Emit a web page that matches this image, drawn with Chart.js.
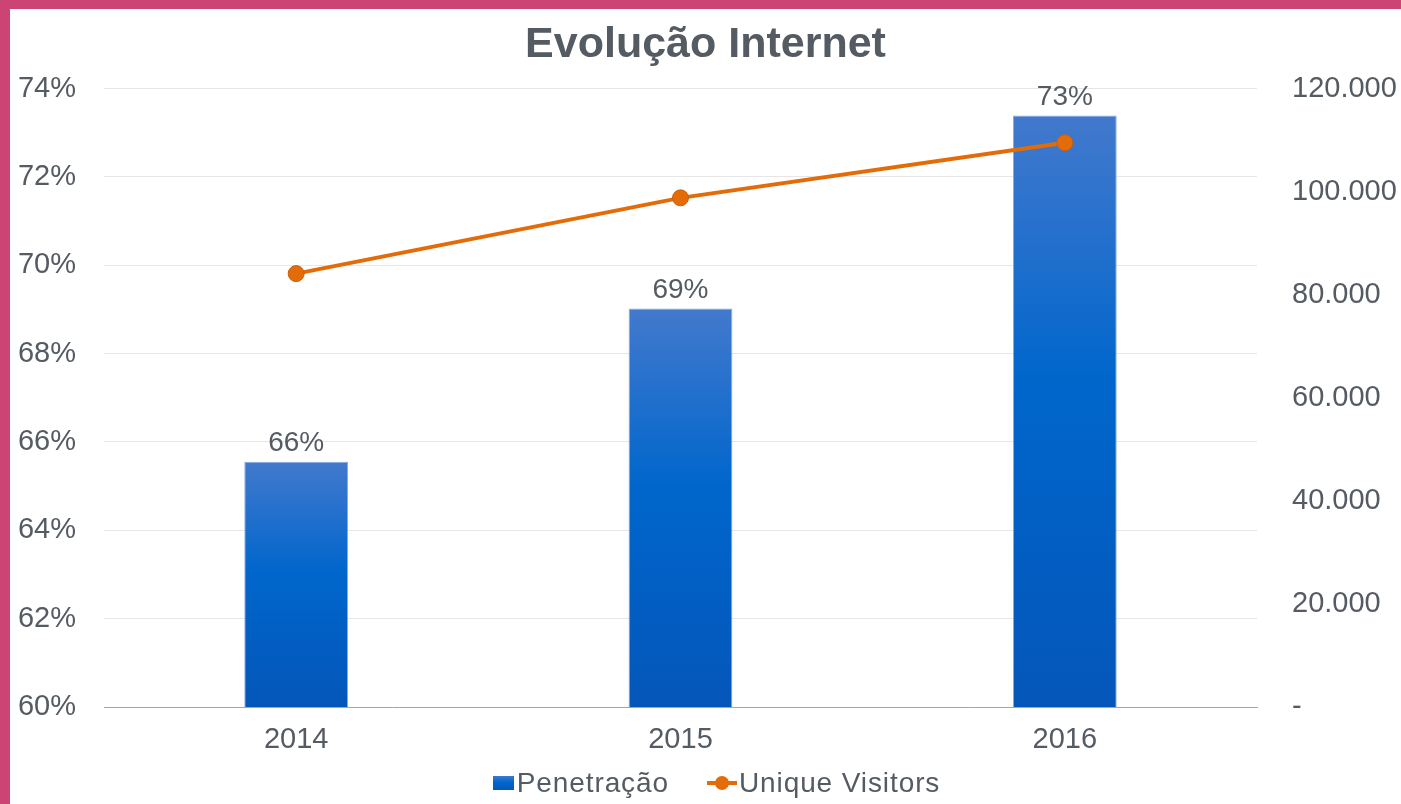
<!DOCTYPE html>
<html lang="pt">
<head>
  <meta charset="UTF-8">
  <title>Evolução Internet</title>
  <script src="https://cdn.jsdelivr.net/npm/chart.js"></script>
  <style>
    * {
      margin: 0;
      padding: 0;
    }

    body {
      background: #fff;
      font-family: "Liberation Sans", Arial, sans-serif;
    }

    .frame {
      position: relative;
      width: 1401px;
      height: 804px;
      box-sizing: border-box;
      border-top: 9px solid #cc4474;
      border-left: 10px solid #cc4474;
      overflow: hidden;
    }

    .chart-legend {
      position: absolute;
      left: 0;
      top: 758px;
      width: 1391px;
      display: flex;
      justify-content: center;
      align-items: center;
      padding-left: 22px;
      box-sizing: border-box;
      color: #555b62;
      font-size: 28px;
      letter-spacing: 0.9px;
    }

    .chart-legend-item {
      display: flex;
      align-items: center;
      margin: 0 19px;
    }

    .legend-box {
      width: 21px;
      height: 14px;
      margin-right: 3px;
      background: linear-gradient(#3f78cc, #0066cc 45%, #0558bb);
    }

    .legend-line {
      position: relative;
      width: 30px;
      height: 4px;
      margin-right: 2px;
      background: #e36c09;
    }

    .legend-line::after {
      content: '';
      position: absolute;
      left: 8px;
      top: -5px;
      width: 14px;
      height: 14px;
      border-radius: 50%;
      background: #e36c09;
    }
  </style>
</head>
<body>
<div class="frame">
  <canvas id="chart" width="1391" height="795"></canvas>
  <div class="chart-legend">
    <div class="chart-legend-item"><div class="legend-box"></div><span>Penetração</span></div>
    <div class="chart-legend-item"><div class="legend-line"></div><span>Unique Visitors</span></div>
  </div>
</div>

<script>
  const years = ['2014', '2015', '2016'];
  const penetration = [65.55, 69.02, 73.39];
  const visitors = [84100, 98800, 109500];

  const textColor = '#555b62';
  const fontFamily = '"Liberation Sans", Arial, sans-serif';

  // dot thousands separator, dash for zero (like the original sheet)
  function formatThousands(v) {
    if (v === 0) return '-';
    return String(Math.round(v)).replace(/\B(?=(\d{3})+(?!\d))/g, '.');
  }

  function barGradient(context) {
    const chart = context.chart;
    const area = chart.chartArea;
    if (!area || context.parsed === undefined) return '#0066cc';
    const top = chart.scales.y.getPixelForValue(context.parsed.y);
    const g = chart.ctx.createLinearGradient(0, top, 0, area.bottom);
    g.addColorStop(0, '#4279cd');
    g.addColorStop(0.45, '#0066cc');
    g.addColorStop(1, '#0556b9');
    return g;
  }

  const barLabels = {
    id: 'barLabels',
    afterDatasetsDraw(chart) {
      const ctx = chart.ctx;
      const meta = chart.getDatasetMeta(1);
      ctx.save();
      ctx.font = '28px ' + fontFamily;
      ctx.fillStyle = textColor;
      ctx.textAlign = 'center';
      ctx.textBaseline = 'alphabetic';
      meta.data.forEach((bar, i) => {
        ctx.fillText(Math.round(penetration[i]) + '%', bar.x, bar.y - 11);
      });
      ctx.restore();
    }
  };

  new Chart(document.getElementById('chart'), {
    data: {
      labels: years,
      datasets: [
        {
          type: 'line',
          label: 'Unique Visitors',
          data: visitors,
          yAxisID: 'y1',
          order: 0,
          borderColor: '#e36c09',
          borderWidth: 4,
          pointRadius: 8,
          pointBackgroundColor: '#e36c09',
          pointBorderColor: '#c95f0a',
          pointBorderWidth: 1,
          tension: 0
        },
        {
          type: 'bar',
          label: 'Penetração',
          data: penetration,
          yAxisID: 'y',
          order: 1,
          backgroundColor: barGradient,
          borderColor: '#86aae0',
          borderWidth: 1,
          borderSkipped: 'bottom',
          barPercentage: 0.27,
          categoryPercentage: 1
        }
      ]
    },
    options: {
      responsive: false,
      animation: false,
      layout: {
        padding: { left: 0, right: 0, top: 0, bottom: 37 }
      },
      plugins: {
        legend: { display: false },
        tooltip: { enabled: false },
        title: {
          display: true,
          text: 'Evolução Internet',
          color: textColor,
          font: { family: fontFamily, size: 43, weight: 'bold' },
          padding: { top: 10, bottom: 18 }
        }
      },
      scales: {
        x: {
          grid: { display: false, drawTicks: false },
          border: { display: true, color: '#8aa9d6', width: 1 },
          ticks: {
            color: textColor,
            font: { family: fontFamily, size: 29 },
            padding: 16
          },
          afterFit(scale) { scale.height = 60; }
        },
        y: {
          position: 'left',
          min: 60,
          max: 74,
          grid: { color: '#e6e6e6', drawTicks: false },
          border: { display: false },
          ticks: {
            stepSize: 2,
            color: textColor,
            font: { family: fontFamily, size: 29 },
            padding: 28,
            callback: v => v + '%'
          },
          afterFit(scale) { scale.width = 94; }
        },
        y1: {
          position: 'right',
          min: 0,
          max: 120000,
          grid: { display: false, drawTicks: false },
          border: { display: false },
          ticks: {
            stepSize: 20000,
            color: textColor,
            font: { family: fontFamily, size: 29 },
            padding: 35,
            callback: v => formatThousands(v)
          },
          afterFit(scale) { scale.width = 144; }
        }
      }
    },
    plugins: [barLabels]
  });
</script>
</body>
</html>
